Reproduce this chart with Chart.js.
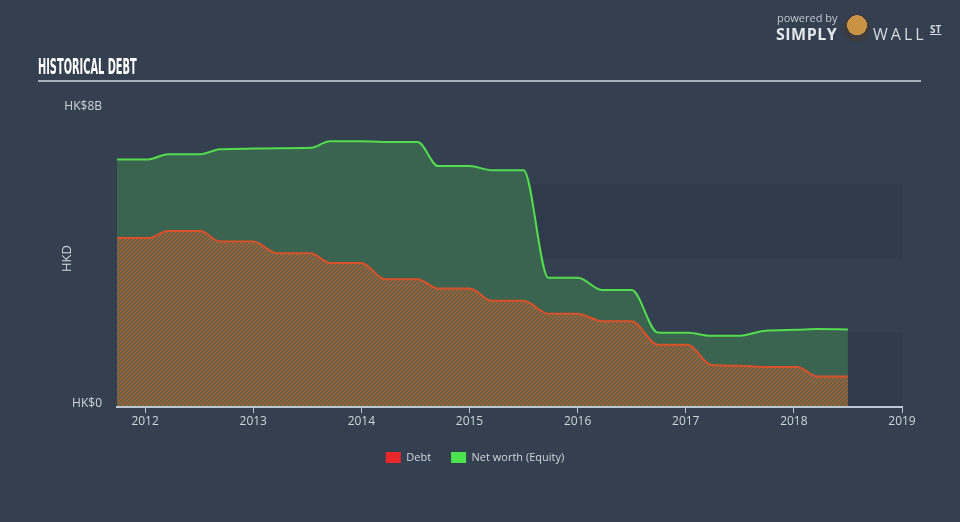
<!DOCTYPE html>
<html lang="en">
<head>
<meta charset="UTF-8">
<title>Historical Debt</title>
<script src="https://cdn.jsdelivr.net/npm/chart.js"></script>
<style>
  body { margin: 0; background: #344050; width: 960px; height: 522px; overflow: hidden; position: relative; font-family: "Open Sans", sans-serif; }
  #chart { position: absolute; left: 0; top: 0; }
  .title { position: absolute; left: 38px; top: 55px; color: #fff; font: bold 21px "DejaVu Sans Condensed", sans-serif; transform: scaleX(0.52); transform-origin: left top; white-space: nowrap; }
  .rule { position: absolute; left: 38px; top: 80px; width: 883px; height: 2px; background: #a8b0ba; }
  .logo span { position: absolute; color: #e4e7ea; white-space: nowrap; }
  .bull { position: absolute; left: 843px; top: 14px; width: 28px; height: 28px; border-radius: 50%; background: radial-gradient(circle at 50% 40%, #c99244 0 45%, #3c3c40 46%); }
</style>
</head>
<body>
<canvas id="chart" width="960" height="522"></canvas>
<div class="title">HISTORICAL DEBT</div>
<div class="rule"></div>
<div class="logo">
  <span style="left:777px; top:10px; font:11px 'Open Sans', sans-serif; color:#c3c8ce;">powered by</span>
  <span style="left:776px; top:23px; font:bold 16px 'Open Sans', sans-serif; letter-spacing:0.5px;">SIMPLY</span>
  <div class="bull"></div>
  <span style="left:873px; top:23px; font:16px 'Open Sans', sans-serif; letter-spacing:3px; color:#d6dade;">WALL</span>
  <span style="left:930px; top:22px; font:bold 10px 'Open Sans', sans-serif; text-decoration:underline; color:#d6dade;">ST</span>
</div>
<script>
// half-yearly plateaus, in billions of HKD
const dates = [2011.74, 2012.03, 2012.21, 2012.51, 2012.69, 2013.0, 2013.22, 2013.53, 2013.71, 2014.0,
  2014.22, 2014.52, 2014.71, 2015.0, 2015.21, 2015.5, 2015.73, 2016.0, 2016.23, 2016.5,
  2016.74, 2017.02, 2017.23, 2017.5, 2017.72, 2018.03, 2018.22, 2018.5];
const debt = [4.55, 4.55, 4.74, 4.74, 4.46, 4.46, 4.14, 4.14, 3.88, 3.88,
  3.44, 3.44, 3.19, 3.19, 2.86, 2.86, 2.51, 2.51, 2.31, 2.31,
  1.68, 1.68, 1.14, 1.11, 1.08, 1.08, 0.82, 0.82];
const equity = [6.67, 6.67, 6.81, 6.81, 6.94, 6.96, 6.97, 6.98, 7.16, 7.16,
  7.14, 7.14, 6.49, 6.49, 6.38, 6.38, 3.48, 3.48, 3.15, 3.15,
  2.01, 2.00, 1.92, 1.92, 2.05, 2.08, 2.10, 2.09];
const yearTicks = [2012, 2013, 2014, 2015, 2016, 2017, 2018, 2019];
const valueTicks = [0, 8];
const bands = [[0, 2], [4, 6]];

const pts = vals => dates.map((d, i) => ({ x: d, y: vals[i] }));

function hatch() {
  const c = document.createElement('canvas');
  c.width = 4; c.height = 4;
  const g = c.getContext('2d');
  g.fillStyle = '#4a6a50';
  g.fillRect(0, 0, 4, 4);
  g.strokeStyle = '#ba5a33';
  g.lineWidth = 1.3;
  g.beginPath();
  g.moveTo(0, 4); g.lineTo(4, 0);
  g.moveTo(-1, 1); g.lineTo(1, -1);
  g.moveTo(3, 5); g.lineTo(5, 3);
  g.stroke();
  return g.createPattern(c, 'repeat');
}

const bandPlugin = {
  id: 'bands',
  beforeDatasetsDraw(chart) {
    const { ctx, chartArea: a, scales: { y } } = chart;
    ctx.save();
    ctx.fillStyle = 'rgba(20, 30, 45, 0.14)';
    bands.forEach(([lo, hi]) => {
      const top = y.getPixelForValue(hi), bot = y.getPixelForValue(lo);
      ctx.fillRect(a.left, top, a.right - a.left, bot - top);
    });
    ctx.restore();
  },
  // baseline stays visible on top of the filled areas
  afterDatasetsDraw(chart) {
    const { ctx, chartArea: a } = chart;
    ctx.save();
    ctx.strokeStyle = '#bcc6d0';
    ctx.lineWidth = 2;
    ctx.beginPath();
    ctx.moveTo(a.left, a.bottom);
    ctx.lineTo(a.right, a.bottom);
    ctx.stroke();
    ctx.restore();
  }
};

const tickFont = { family: 'Open Sans', size: 12 };

new Chart(document.getElementById('chart'), {
  type: 'line',
  data: {
    datasets: [{
      label: 'Debt',
      data: pts(debt),
      borderColor: '#d9502a',
      backgroundColor: hatch(),
      borderWidth: 2,
      fill: 'origin',
      pointRadius: 0,
      cubicInterpolationMode: 'monotone'
    }, {
      label: 'Net worth (Equity)',
      data: pts(equity),
      borderColor: '#52dc4e',
      backgroundColor: '#3a6450',
      borderWidth: 2,
      fill: 'origin',
      pointRadius: 0,
      cubicInterpolationMode: 'monotone'
    }]
  },
  options: {
    responsive: false,
    animation: false,
    layout: { padding: { top: 110, right: 10, left: 0, bottom: 49 } },
    plugins: {
      tooltip: { enabled: false },
      legend: {
        position: 'bottom',
        labels: {
          color: '#d0d5da',
          font: { family: 'Open Sans', size: 11 },
          boxWidth: 15,
          boxHeight: 11,
          padding: 20,
          generateLabels: chart => chart.data.datasets.map((ds, i) => ({
            text: ds.label,
            fillStyle: i === 0 ? '#e8272a' : '#4ce44c',
            strokeStyle: 'transparent',
            lineWidth: 0,
            fontColor: '#d0d5da',
            datasetIndex: i
          }))
        }
      }
    },
    scales: {
      x: {
        type: 'linear',
        min: dates[0],
        max: 2019,
        afterBuildTicks: s => { s.ticks = yearTicks.map(v => ({ value: v })); },
        afterFit: s => { s.height = 25; },
        border: { color: '#bcc6d0', width: 2 },
        grid: { drawOnChartArea: false, color: '#bcc6d0', tickLength: 6 },
        ticks: { color: '#d0d5da', font: tickFont, padding: 1, maxRotation: 0, callback: v => String(v) }
      },
      y: {
        min: 0,
        max: 8,
        afterBuildTicks: s => { s.ticks = valueTicks.map(v => ({ value: v })); },
        afterFit: s => { s.width = 117; },
        border: { display: false },
        grid: { display: false, drawTicks: false },
        title: { display: true, text: 'HKD', color: '#d0d5da', font: { family: 'Open Sans', size: 13 }, padding: { top: 59 } },
        ticks: { color: '#d0d5da', font: tickFont, padding: 15, labelOffset: -3,
          callback: v => v === 0 ? 'HK$0' : 'HK$' + v + 'B' }
      },
      // empty right-hand gutter so the legend centres like the original
      gutter: {
        type: 'linear',
        axis: 'y',
        position: 'right',
        afterFit: s => { s.width = 48; },
        border: { display: false },
        grid: { display: false },
        ticks: { display: false }
      }
    }
  },
  plugins: [bandPlugin]
});
</script>
</body>
</html>
